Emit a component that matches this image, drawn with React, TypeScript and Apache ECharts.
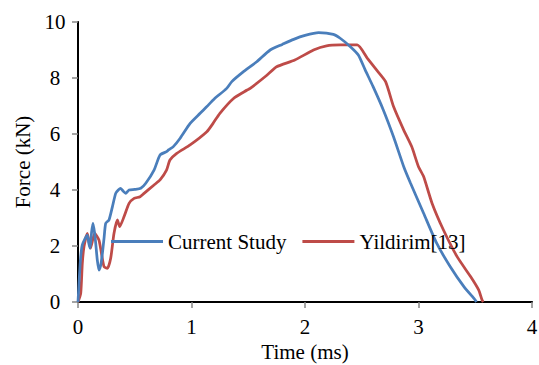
import React, { useEffect, useRef } from "react";
import * as echarts from "echarts";

const seriesNames = ["Current Study", "Yildirim[13]"];

const timeCurrent = [0, 0.012, 0.024, 0.038, 0.06, 0.082, 0.095, 0.106, 0.12, 0.132, 0.145, 0.156, 0.17, 0.185, 0.2, 0.215, 0.23, 0.244, 0.273, 0.303, 0.332, 0.355, 0.376, 0.4, 0.42, 0.45, 0.5, 0.553, 0.597, 0.67, 0.723, 0.78, 0.797, 0.84, 0.9, 0.988, 1.076, 1.135, 1.2, 1.31, 1.355, 1.45, 1.575, 1.693, 1.8, 1.9, 2.0, 2.12, 2.25, 2.31, 2.4, 2.47, 2.53, 2.6, 2.69, 2.78, 2.87, 2.93, 3.045, 3.16, 3.28, 3.4, 3.5, 3.51];
const forceCurrent = [0, 0.9, 1.62, 2.04, 2.25, 2.39, 2.1, 1.92, 2.5, 2.81, 2.5, 2.1, 1.5, 1.14, 1.3, 1.74, 2.3, 2.81, 2.93, 3.4, 3.88, 4.0, 4.06, 3.95, 3.88, 4.0, 4.02, 4.06, 4.24, 4.71, 5.25, 5.37, 5.43, 5.55, 5.85, 6.38, 6.74, 6.98, 7.25, 7.63, 7.87, 8.2, 8.58, 9.0, 9.2, 9.38, 9.52, 9.62, 9.56, 9.42, 9.12, 8.82, 8.29, 7.69, 6.86, 5.9, 4.83, 4.24, 3.17, 2.1, 1.26, 0.55, 0.07, 0];

const timeYildirim = [0, 0.024, 0.038, 0.053, 0.082, 0.11, 0.147, 0.185, 0.229, 0.259, 0.288, 0.317, 0.347, 0.367, 0.406, 0.45, 0.494, 0.547, 0.582, 0.67, 0.723, 0.78, 0.81, 0.87, 0.988, 1.135, 1.19, 1.25, 1.37, 1.49, 1.517, 1.664, 1.75, 1.91, 2.075, 2.19, 2.31, 2.46, 2.55, 2.63, 2.71, 2.78, 2.87, 2.94, 3.0, 3.045, 3.12, 3.22, 3.34, 3.46, 3.53, 3.56, 3.57];
const forceYildirim = [0, 0.31, 1.38, 1.98, 2.45, 1.92, 2.45, 2.21, 1.26, 1.2, 1.56, 2.45, 2.93, 2.69, 3.05, 3.52, 3.7, 3.76, 3.88, 4.18, 4.36, 4.71, 5.07, 5.31, 5.61, 6.08, 6.38, 6.74, 7.27, 7.57, 7.63, 8.1, 8.4, 8.64, 9.0, 9.15, 9.18, 9.18, 8.7, 8.29, 7.87, 6.98, 6.14, 5.55, 4.83, 4.48, 3.52, 2.57, 1.62, 0.9, 0.43, 0.07, 0];

const xTicks = { min: 0, max: 4, interval: 1 };
const yTicks = { min: 0, max: 10, interval: 2 };

const FONT = "Liberation Serif";
const BLUE = "#4a7ebb";
const RED = "#be4b48";
const AXIS_GRAY = "#868686";

function zip(a: number[], b: number[]) {
  return a.map((v, i) => [v, b[i]]);
}

const txt = { fontFamily: FONT, fontSize: 21, color: "#000" };

export default function App() {
  const ref = useRef<HTMLDivElement>(null);
  useEffect(() => {
    if (!ref.current) return;
    const chart = echarts.init(ref.current, null, { renderer: "svg" });
    chart.setOption({
      animation: false,
      backgroundColor: "#ffffff",
      textStyle: { fontFamily: FONT },
      grid: { left: 78, right: 7, top: 22, bottom: 63, outerBoundsMode: "none" },
      legend: {
        data: seriesNames,
        left: 111,
        top: 231,
        padding: 0,
        icon: "rect",
        itemWidth: 52,
        itemHeight: 3,
        itemGap: 16,
        textStyle: { ...txt },
      },
      xAxis: [
        {
          type: "value",
          ...xTicks,
          name: "Time (ms)",
          nameLocation: "middle",
          nameGap: 39,
          nameTextStyle: { ...txt },
          axisLine: { show: true, lineStyle: { color: AXIS_GRAY, width: 2 } },
          axisTick: { show: true, inside: false, length: 6, lineStyle: { color: AXIS_GRAY, width: 1.5 } },
          axisLabel: { ...txt, margin: 14 },
          splitLine: { show: false },
        },
        {
          type: "value",
          position: "top",
          ...xTicks,
          axisLine: { show: true, lineStyle: { color: "#000", width: 2 } },
          axisTick: { show: false },
          axisLabel: { show: false },
          splitLine: { show: false },
        },
      ],
      yAxis: [
        {
          type: "value",
          ...yTicks,
          name: "Force (kN)",
          nameLocation: "middle",
          nameGap: 43,
          nameTextStyle: { ...txt },
          axisLine: { show: true, lineStyle: { color: AXIS_GRAY, width: 2 } },
          axisTick: { show: true, inside: false, length: 6, lineStyle: { color: AXIS_GRAY, width: 1.5 } },
          axisLabel: { ...txt, margin: 23, align: "center" },
          splitLine: { show: false },
        },
        {
          type: "value",
          position: "right",
          ...yTicks,
          axisLine: { show: true, lineStyle: { color: "#000", width: 2 } },
          axisTick: { show: false },
          axisLabel: { show: false },
          splitLine: { show: false },
        },
      ],
      series: [
        {
          name: seriesNames[0],
          type: "line",
          data: zip(timeCurrent, forceCurrent),
          showSymbol: false,
          smooth: 0.2,
          lineStyle: { color: BLUE, width: 2.75 },
          itemStyle: { color: BLUE },
          z: 3,
        },
        {
          name: seriesNames[1],
          type: "line",
          data: zip(timeYildirim, forceYildirim),
          showSymbol: false,
          smooth: 0.2,
          lineStyle: { color: RED, width: 2.75 },
          itemStyle: { color: RED },
          z: 2,
        },
      ],
    });
    return () => chart.dispose();
  }, []);
  return (
    <div
      ref={ref}
      style={{ position: "absolute", left: 0, top: 0, width: 539, height: 365 }}
    />
  );
}
